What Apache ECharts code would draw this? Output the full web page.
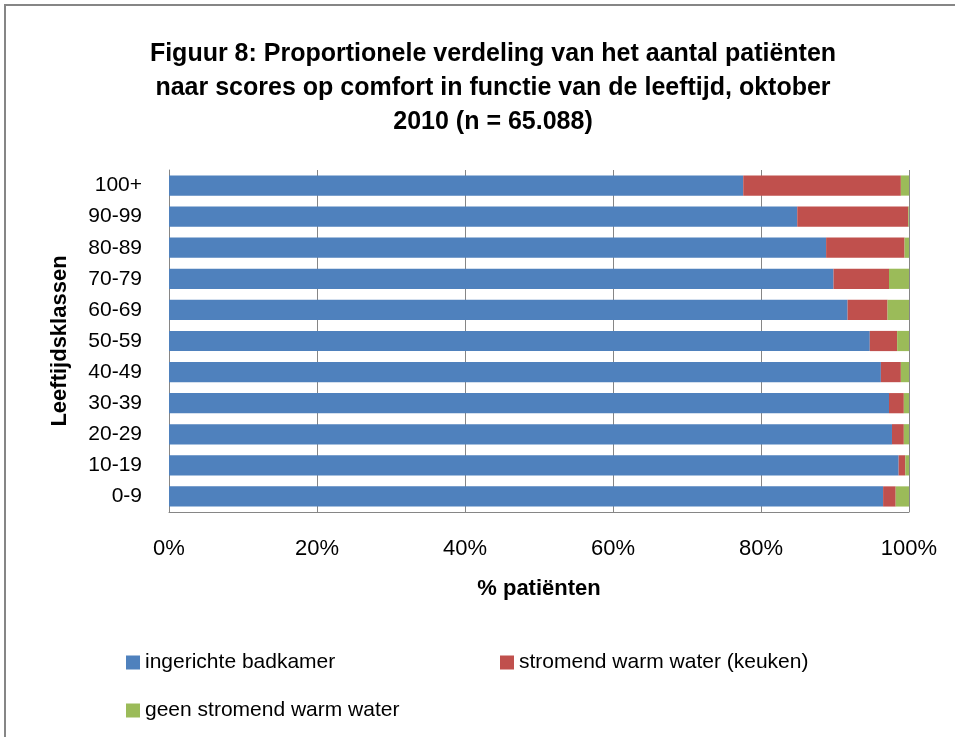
<!DOCTYPE html>
<html>
<head>
<meta charset="utf-8">
<script src="https://cdn.jsdelivr.net/npm/echarts@6/dist/echarts.min.js"></script>
<style>
  html, body { margin: 0; padding: 0; background: #fff; overflow: hidden; }
  #frame {
    position: absolute; left: 4px; top: 4px;
    width: 980px; height: 760px;
    border: 2px solid #868686;
    box-sizing: border-box;
  }
  #main { position: absolute; left: 0; top: 0; width: 955px; height: 737px; }
</style>
</head>
<body>
<div id="frame"></div>
<div id="main"></div>
<script>
// leeftijdsklassen (onder naar boven)
var categories = ["0-9", "10-19", "20-29", "30-39", "40-49", "50-59", "60-69", "70-79", "80-89", "90-99", "100+"];
// percentages per klasse
var badkamer = [96.5, 98.6, 97.7, 97.3, 96.2, 94.7, 91.7, 89.8, 88.8, 84.9, 77.6];
var keuken = [1.7, 0.9, 1.6, 2.0, 2.7, 3.7, 5.4, 7.5, 10.6, 15.0, 21.3];
var geen = [1.8, 0.5, 0.7, 0.7, 1.1, 1.6, 2.9, 2.7, 0.6, 0.1, 1.1];
var xTicks = [0, 20, 40, 60, 80, 100];

var names = ["ingerichte badkamer", "stromend warm water (keuken)", "geen stromend warm water"];
var colors = ["#4F81BD", "#C0504D", "#9BBB59"];
var font = "Liberation Sans";

var myChart = echarts.init(document.getElementById("main"));

function legendAt(name, left, top) {
  return {
    data: [name],
    left: left,
    top: top,
    icon: "rect",
    itemWidth: 14,
    itemHeight: 14,
    itemGap: 4,
    textStyle: { fontFamily: font, fontSize: 21, color: "#000" }
  };
}

var option = {
  animation: false,
  color: colors,
  title: {
    text: "Figuur 8: Proportionele verdeling van het aantal patiënten\nnaar scores op comfort in functie van de leeftijd, oktober\n2010 (n = 65.088)",
    left: 488,
    textAlign: "center",
    top: 32,
    textStyle: { fontFamily: font, fontSize: 25, fontWeight: "bold", color: "#000", lineHeight: 34 }
  },
  legend: [
    legendAt(names[0], 121, 647),
    legendAt(names[1], 495, 647),
    legendAt(names[2], 121, 695)
  ],
  grid: { left: 169, right: 46, top: 170, bottom: 225 },
  xAxis: {
    type: "value",
    min: 0,
    max: 100,
    interval: 20,
    name: "% patiënten",
    nameLocation: "middle",
    nameGap: 66,
    nameTextStyle: { fontFamily: font, fontSize: 22, fontWeight: "bold", color: "#000" },
    axisLine: { show: true, lineStyle: { color: "#868686" } },
    axisTick: { show: false },
    axisLabel: {
      margin: 26,
      fontFamily: font, fontSize: 22, color: "#000",
      formatter: function (v) { return xTicks.indexOf(v) >= 0 ? v + "%" : ""; }
    },
    splitLine: { show: true, lineStyle: { color: "#868686" } }
  },
  yAxis: {
    type: "category",
    data: categories,
    name: "Leeftijdsklassen",
    nameLocation: "middle",
    nameRotate: 90,
    nameGap: 98,
    nameTextStyle: { fontFamily: font, fontSize: 22, fontWeight: "bold", color: "#000" },
    axisLine: { show: true, lineStyle: { color: "#868686" } },
    axisTick: { show: false },
    axisLabel: { margin: 27, fontFamily: font, fontSize: 21, color: "#000" }
  },
  series: [
    { name: names[0], type: "bar", stack: "total", data: badkamer, barCategoryGap: "35%" },
    { name: names[1], type: "bar", stack: "total", data: keuken, barCategoryGap: "35%" },
    { name: names[2], type: "bar", stack: "total", data: geen, barCategoryGap: "35%" }
  ]
};

option && myChart.setOption(option);
</script>
</body>
</html>
